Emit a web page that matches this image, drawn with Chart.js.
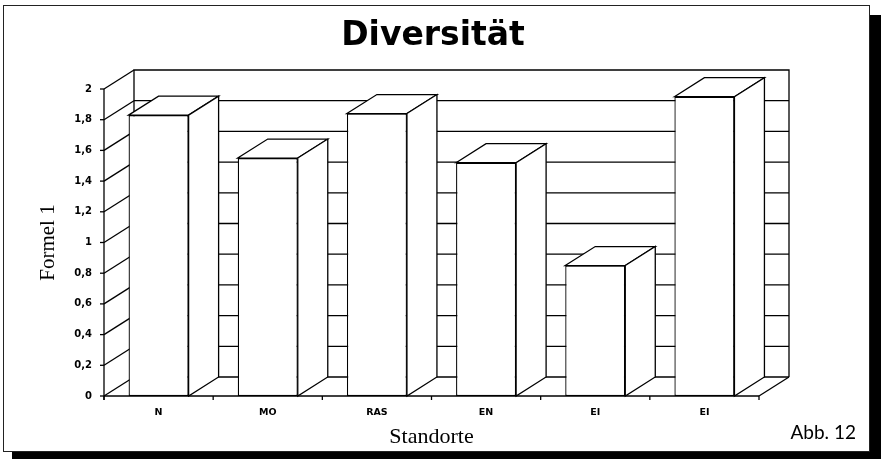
<!DOCTYPE html>
<html>
<head>
<meta charset="utf-8">
<script src="https://cdn.jsdelivr.net/npm/chart.js@4/dist/chart.umd.min.js"></script>
<style>
  html, body { margin: 0; padding: 0; background: #fff; }
  #c { display: block; }
</style>
</head>
<body>
<canvas id="c" width="881" height="459" style="width:881px;height:459px"></canvas>
<script>
// Diversity index per site (Formel 1)
const categories = ['N', 'MO', 'RAS', 'EN', 'EI', 'EI'];
const diversityValues = [1.83, 1.55, 1.84, 1.52, 0.85, 1.95];
const yTickValues = [0, 0.2, 0.4, 0.6, 0.8, 1, 1.2, 1.4, 1.6, 1.8, 2];
const yTickLabels = ['0', '0,2', '0,4', '0,6', '0,8', '1', '1,2', '1,4', '1,6', '1,8', '2'];

// Depth of the pseudo-3D box (right and up)
const DEPTH_X = 30;
const DEPTH_Y = -19;
const LINE = '#000';
const LW = 1.3;

function line(ctx, x1, y1, x2, y2) {
  ctx.beginPath();
  ctx.moveTo(x1, y1);
  ctx.lineTo(x2, y2);
  ctx.stroke();
}

const boxPlugin = {
  id: 'box3d',
  beforeDraw(chart) {
    const ctx = chart.ctx;
    ctx.save();
    ctx.fillStyle = '#fff';
    ctx.fillRect(0, 0, chart.width, chart.height);
    // page frame with drop shadow
    ctx.fillStyle = '#000';
    ctx.fillRect(870, 15, 11, 444);
    ctx.fillRect(12, 452, 869, 7);
    ctx.strokeStyle = '#222';
    ctx.lineWidth = 1;
    ctx.strokeRect(3.5, 5.5, 866, 446);
    ctx.restore();
  },
  beforeDatasetsDraw(chart) {
    const ctx = chart.ctx;
    const xs = chart.scales.x;
    const ys = chart.scales.y;
    const left = xs.left, right = xs.right;
    const top = ys.getPixelForValue(yTickValues[yTickValues.length - 1]);
    const bottom = ys.getPixelForValue(0);
    ctx.save();
    ctx.strokeStyle = LINE;
    ctx.lineWidth = LW;
    // back wall outline
    ctx.beginPath();
    ctx.moveTo(left + DEPTH_X, bottom + DEPTH_Y);
    ctx.lineTo(left + DEPTH_X, top + DEPTH_Y);
    ctx.lineTo(right + DEPTH_X, top + DEPTH_Y);
    ctx.lineTo(right + DEPTH_X, bottom + DEPTH_Y);
    ctx.stroke();
    // gridlines on back wall and side wall
    yTickValues.forEach(v => {
      const py = ys.getPixelForValue(v);
      if (v < yTickValues[yTickValues.length - 1]) {
        line(ctx, left + DEPTH_X, py + DEPTH_Y, right + DEPTH_X, py + DEPTH_Y);
      }
      line(ctx, left, py, left + DEPTH_X, py + DEPTH_Y);
      // tick mark on the value axis
      line(ctx, left - 4, py, left, py);
    });
    // floor
    line(ctx, left, bottom, right, bottom);
    line(ctx, right, bottom, right + DEPTH_X, bottom + DEPTH_Y);
    // value axis
    line(ctx, left, top, left, bottom + 4);
    // category tick marks
    for (let i = 0; i <= categories.length; i++) {
      const px = left + (right - left) * i / categories.length;
      line(ctx, px, bottom, px, bottom + 4);
    }
    ctx.restore();
  },
  afterDatasetsDraw(chart) {
    const ctx = chart.ctx;
    const meta = chart.getDatasetMeta(0);
    ctx.save();
    ctx.strokeStyle = LINE;
    ctx.lineWidth = LW;
    ctx.fillStyle = '#fff';
    ctx.lineJoin = 'miter';
    meta.data.forEach(bar => {
      const p = bar.getProps(['x', 'y', 'base', 'width'], true);
      const x0 = p.x - p.width / 2;
      const x1 = p.x + p.width / 2;
      // top face
      ctx.beginPath();
      ctx.moveTo(x0, p.y);
      ctx.lineTo(x0 + DEPTH_X, p.y + DEPTH_Y);
      ctx.lineTo(x1 + DEPTH_X, p.y + DEPTH_Y);
      ctx.lineTo(x1, p.y);
      ctx.closePath();
      ctx.fill();
      ctx.stroke();
      // side face
      ctx.beginPath();
      ctx.moveTo(x1, p.y);
      ctx.lineTo(x1 + DEPTH_X, p.y + DEPTH_Y);
      ctx.lineTo(x1 + DEPTH_X, p.base + DEPTH_Y);
      ctx.lineTo(x1, p.base);
      ctx.closePath();
      ctx.fill();
      ctx.stroke();
    });
    ctx.restore();
  },
  afterDraw(chart) {
    const ctx = chart.ctx;
    ctx.save();
    ctx.fillStyle = '#000';
    ctx.font = '19px Lato';
    ctx.textAlign = 'right';
    ctx.textBaseline = 'alphabetic';
    ctx.fillText('Abb. 12', 856, 439);
    ctx.restore();
  }
};

new Chart(document.getElementById('c'), {
  type: 'bar',
  data: {
    labels: categories,
    datasets: [{
      data: diversityValues,
      backgroundColor: '#fff',
      borderColor: LINE,
      borderWidth: LW,
      borderSkipped: false,
      categoryPercentage: 1,
      barPercentage: 0.55
    }]
  },
  options: {
    responsive: false,
    animation: false,
    devicePixelRatio: 1,
    layout: { padding: { left: 0, top: 0, right: 15, bottom: 0 } },
    plugins: {
      legend: { display: false },
      tooltip: { enabled: false },
      title: {
        display: true,
        text: 'Diversität',
        color: '#000',
        font: { family: 'DejaVu Sans', weight: 'bold', size: 33 },
        padding: { top: 17, bottom: 32.4 }
      }
    },
    scales: {
      x: {
        grid: { display: false, drawTicks: false },
        border: { display: false },
        ticks: {
          color: '#000',
          font: { family: 'DejaVu Sans', weight: 'bold', size: 9.5 },
          padding: 11,
          maxRotation: 0
        },
        title: {
          display: true,
          text: 'Standorte',
          color: '#000',
          font: { family: 'Liberation Serif', size: 22 },
          padding: { top: 0, bottom: 9 }
        },
        afterFit(s) { s.height = 63; }
      },
      y: {
        min: 0,
        max: 2,
        grid: { display: false, drawTicks: false },
        border: { display: false },
        afterBuildTicks(s) { s.ticks = yTickValues.map(v => ({ value: v })); },
        ticks: {
          color: '#000',
          font: { family: 'DejaVu Sans', weight: 'bold', size: 10 },
          padding: 12,
          callback: (v) => yTickLabels[yTickValues.indexOf(v)]
        },
        title: {
          display: true,
          text: 'Formel 1',
          color: '#000',
          font: { family: 'Liberation Serif', size: 21 },
          padding: { top: 36, bottom: 0 }
        },
        afterFit(s) { s.width = 104; }
      },
      // empty band on the right that keeps room for the box depth
      yRight: {
        position: 'right',
        display: true,
        grid: { display: false, drawTicks: false },
        border: { display: false },
        ticks: { display: false },
        afterFit(s) { s.width = 107; }
      }
    }
  },
  plugins: [boxPlugin]
});
</script>
</body>
</html>
